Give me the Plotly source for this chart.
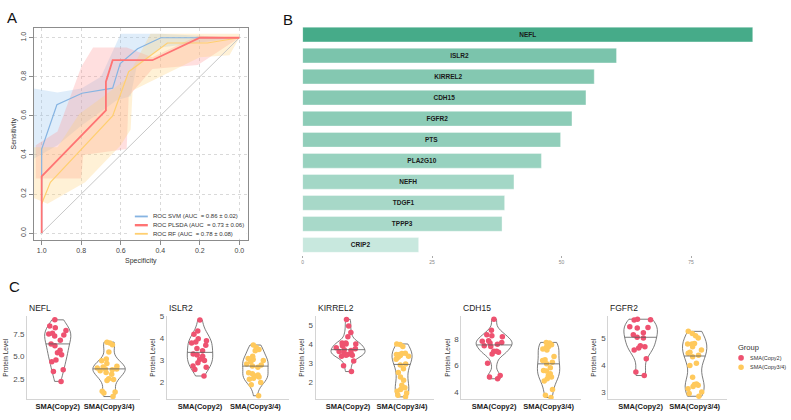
import numpy as np
import plotly.graph_objects as go

W, H = 791, 420
FONT = "Liberation Sans, Arial, sans-serif"

# ---------------- Panel A : ROC curves ----------------
roc_names = ["ROC SVM (AUC  = 0.86 ± 0.02)",
             "ROC PLSDA (AUC  = 0.73 ± 0.06)",
             "ROC RF (AUC  = 0.78 ± 0.08)"]
svm_spec = [1.0, 1.0, 0.923, 0.796, 0.641, 0.603, 0.515, 0.397, 0.0]
svm_sens = [0.0, 0.43, 0.657, 0.716, 0.742, 0.868, 0.944, 1.0, 1.0]
pls_spec = [1.0, 1.0, 0.675, 0.675, 0.641, 0.44, 0.2, 0.0]
pls_sens = [0.0, 0.29, 0.628, 0.775, 0.885, 0.885, 1.0, 1.0]
rf_spec = [1.0, 0.956, 0.641, 0.56, 0.364, 0.162, 0.0]
rf_sens = [0.15, 0.26, 0.60, 0.826, 0.973, 0.973, 1.0]
# confidence bands (upper / lower)
svm_up_spec = [1.04, 0.92, 0.80, 0.70, 0.60, 0.40, 0.0]
svm_up_sens = [0.74, 0.72, 0.74, 0.80, 1.02, 1.02, 1.0]
svm_lo_spec = [1.04, 0.92, 0.80, 0.62, 0.55, 0.52, 0.40, 0.0]
svm_lo_sens = [0.38, 0.45, 0.55, 0.68, 0.70, 0.85, 0.95, 1.0]
pls_up_spec = [1.03, 0.92, 0.80, 0.74, 0.57, 0.44, 0.21, 0.0]
pls_up_sens = [0.45, 0.52, 0.85, 0.95, 0.95, 0.90, 1.01, 1.0]
pls_lo_spec = [1.03, 0.80, 0.79, 0.57, 0.56, 0.44, 0.21, 0.0]
pls_lo_sens = [0.28, 0.28, 0.40, 0.43, 0.70, 0.84, 0.86, 1.0]
rf_up_spec = [1.04, 0.92, 0.81, 0.70, 0.57, 0.45, 0.0]
rf_up_sens = [0.44, 0.44, 0.61, 0.69, 0.79, 1.02, 1.02]
rf_lo_spec = [1.04, 0.97, 0.78, 0.60, 0.55, 0.54, 0.40, 0.20, 0.05, 0.0]
rf_lo_sens = [0.18, 0.15, 0.26, 0.45, 0.53, 0.73, 0.80, 0.90, 0.91, 1.0]
chance = [0.0, 1.0]
roc_ticks = [0.0, 0.2, 0.4, 0.6, 0.8, 1.0]

# ---------------- Panel B : importance ----------------
genes_b = ["NEFL", "ISLR2", "KIRREL2", "CDH15", "FGFR2", "PTS",
           "PLA2G10", "NEFH", "TDGF1", "TPPP3", "CRIP2"]
importance_b = [86.9, 60.6, 56.3, 54.7, 52.0, 49.8, 46.1, 40.8, 39.0, 38.5, 22.4]
b_ticks = [0, 25, 50, 75]

# ---------------- Panel C : violins ----------------
groups = ["SMA(Copy2)", "SMA(Copy3/4)"]
c_genes = ["NEFL", "ISLR2", "KIRREL2", "CDH15", "FGFR2"]
nefl_c2 = [9.1, 8.4, 8.2, 7.9, 7.6, 7.5, 7.4, 7.3, 6.8, 6.4, 6.2, 5.7, 5.4, 5.2, 4.6, 4.4, 3.5, 3.3, 2.2]
nefl_c34 = [6.6, 6.5, 6.3, 5.5, 4.7, 4.5, 4.2, 3.9, 3.8, 3.7, 3.6, 3.6, 3.5, 3.4, 3.2, 3.0, 2.5, 2.4, 2.3, 1.1, 1.0, 0.9, 0.5]
islr2_c2 = [4.85, 4.35, 4.2, 4.0, 3.9, 3.85, 3.8, 3.7, 3.55, 3.45, 3.3, 3.25, 3.2, 3.05, 3.0, 2.9, 2.75, 2.7, 2.6, 2.3]
islr2_c34 = [3.71, 3.6, 3.5, 3.45, 3.2, 3.1, 3.05, 3.0, 2.95, 2.85, 2.8, 2.75, 2.7, 2.45, 2.4, 2.35, 2.3, 2.25, 2.2, 2.15, 2.0, 1.9, 1.4]
kirrel2_c2 = [5.29, 4.95, 4.6, 4.38, 4.05, 4.05, 4.0, 4.0, 3.9, 3.8, 3.75, 3.7, 3.65, 3.6, 3.55, 3.5, 3.45, 3.4, 3.4, 3.35, 3.1, 2.85, 2.55]
kirrel2_c34 = [4.0, 3.97, 3.86, 3.51, 3.5, 3.45, 3.44, 3.39, 3.35, 3.3, 3.2, 2.95, 2.9, 2.7, 2.5, 2.26, 2.09, 1.83, 1.7, 1.6, 1.52, 1.42, 1.3, 1.22]
cdh15_c2 = [9.5, 8.68, 8.33, 8.25, 8.18, 7.88, 7.83, 7.75, 7.7, 7.62, 7.5, 7.45, 7.08, 7.08, 7.0, 6.88, 6.18, 5.25, 5.13, 5.0]
cdh15_c34 = [7.75, 7.7, 7.58, 7.42, 7.38, 7.25, 7.18, 6.68, 6.43, 6.38, 6.25, 6.13, 5.83, 5.63, 5.58, 5.38, 5.25, 5.13, 5.0, 4.83, 4.18, 3.75, 3.58]
fgfr2_c2 = [5.70, 5.68, 5.67, 5.42, 5.39, 5.37, 5.2, 5.12, 5.03, 5.0, 4.72, 4.68, 4.63, 4.56, 4.23, 3.74, 3.61]
fgfr2_c34 = [5.25, 5.17, 5.09, 5.0, 4.8, 4.78, 4.78, 4.68, 4.56, 4.47, 4.44, 4.36, 4.31, 4.07, 3.98, 3.55, 3.3, 3.28, 3.25, 3.2, 3.12, 3.0, 2.94, 2.84]
c_tickvals = [[2.5, 5.0, 7.5], [2, 3, 4, 5], [2, 3, 4, 5], [4, 6, 8], [3, 4, 5]]
c_ticktext = [["2.5", "5.0", "7.5"], ["2", "3", "4", "5"], ["2", "3", "4", "5"], ["4", "6", "8"], ["3", "4", "5"]]
c_data = [(nefl_c2, nefl_c34), (islr2_c2, islr2_c34), (kirrel2_c2, kirrel2_c34),
          (cdh15_c2, cdh15_c34), (fgfr2_c2, fgfr2_c34)]

# ---------------- styles ----------------
roc_colors = ["#86B4E2", "#FF7474", "#FFCF70"]
roc_widths = [1.2, 1.8, 1.2]
band_colors = ["rgba(150,195,240,0.30)", "rgba(255,150,150,0.30)", "rgba(255,210,120,0.30)"]
grp_colors = ["#EE5270", "#FFC95C"]
c_xdom = [(26, 139), (166, 288), (315, 434), (461, 581), (608, 727)]
c_yrange = [(0.17, 9.53), (1.23, 5.03), (1.08, 5.47), (3.43, 9.75), (2.72, 5.82)]
c_widths = [(0.51, 0.63), (0.46, 0.46), (0.63, 0.37), (0.66, 0.41), (0.62, 0.45)]
C_TOP, C_BOT = 315, 399.3


def xd(a, b):
    return [a / W, b / W]


def yd(top, bot):
    return [1 - bot / H, 1 - top / H]


def bw_nrd0(v):
    v = np.asarray(v, float)
    sd = v.std(ddof=1)
    q75, q25 = np.percentile(v, [75, 25])
    lo = min(sd, (q75 - q25) / 1.34)
    if lo <= 0:
        lo = sd
    return 0.9 * lo * len(v) ** -0.2


def kde(v, grid, bw):
    v = np.asarray(v, float)
    z = (np.asarray(grid)[:, None] - v[None, :]) / bw
    return np.exp(-0.5 * z ** 2).sum(1) / (len(v) * bw * np.sqrt(2 * np.pi))


fig = go.Figure()

# ---- Panel A traces
bands = [(svm_up_spec, svm_up_sens, svm_lo_spec, svm_lo_sens),
         (pls_up_spec, pls_up_sens, pls_lo_spec, pls_lo_sens),
         (rf_up_spec, rf_up_sens, rf_lo_spec, rf_lo_sens)]
for (us, ue, ls, le), bc in zip(bands, band_colors):
    fig.add_trace(go.Scatter(x=list(us) + list(ls)[::-1], y=list(ue) + list(le)[::-1],
                             fill="toself", fillcolor=bc, line=dict(width=0),
                             mode="lines", showlegend=False, hoverinfo="skip",
                             xaxis="x", yaxis="y"))
fig.add_trace(go.Scatter(x=chance[::-1], y=chance, mode="lines",
                         line=dict(color="#C8C8C8", width=1), showlegend=False,
                         hoverinfo="skip", xaxis="x", yaxis="y"))
curves = [(svm_spec, svm_sens), (rf_spec, rf_sens), (pls_spec, pls_sens)]
order = [0, 2, 1]
for (sx, sy), i in zip(curves, order):
    fig.add_trace(go.Scatter(x=sx, y=sy, mode="lines", name=roc_names[i],
                             line=dict(color=roc_colors[i], width=roc_widths[i]),
                             showlegend=False, xaxis="x", yaxis="y"))

# ---- Panel B trace
fig.add_trace(go.Bar(x=importance_b, y=genes_b, orientation="h", width=0.7,
                     marker=dict(color=importance_b,
                                 colorscale=[[0, "#C8E8DE"], [1, "#46AB89"]],
                                 cmin=min(importance_b), cmax=max(importance_b),
                                 line=dict(color="rgba(255,255,255,0.6)", width=0.6)),
                     texttemplate="<b>%{y}</b>", textposition="inside",
                     insidetextanchor="middle", textangle=0,
                     textfont=dict(size=6.5, color="#1a1a1a", family=FONT),
                     showlegend=False, xaxis="x2", yaxis="y2"))

# ---- Panel C traces
for k, ((d1, d2), (w1, w2)) in enumerate(zip(c_data, c_widths)):
    ax = k + 3
    for pos, (vals, wd, col) in enumerate(zip((d1, d2), (w1, w2), grp_colors)):
        bw = bw_nrd0(vals)
        fig.add_trace(go.Violin(x0=pos, y=vals, width=wd, bandwidth=bw,
                                spanmode="hard", scalemode="width", side="both",
                                line=dict(color="#5A5A5A", width=0.8),
                                fillcolor="rgba(0,0,0,0)", points="all", pointpos=0,
                                jitter=0.75,
                                marker=dict(color=col, size=5.5, line=dict(width=0)),
                                showlegend=False, xaxis=f"x{ax}", yaxis=f"y{ax}"))
        grid = np.linspace(min(vals), max(vals), 512)
        dens = kde(vals, grid, bw)
        med = float(np.median(vals))
        hw = wd / 2 * float(kde(vals, [med], bw)[0]) / dens.max()
        fig.add_trace(go.Scatter(x=[pos - hw, pos + hw], y=[med, med], mode="lines",
                                 line=dict(color="#5A5A5A", width=0.8),
                                 showlegend=False, hoverinfo="skip",
                                 xaxis=f"x{ax}", yaxis=f"y{ax}"))

layout = dict(
    width=W, height=H, margin=dict(l=0, r=0, t=0, b=0),
    paper_bgcolor="white", plot_bgcolor="white",
    font=dict(family=FONT, color="#333"),
    violinmode="overlay", showlegend=False,
    xaxis=dict(domain=xd(33, 247), range=[1.039, -0.042], tickvals=roc_ticks,
               tickformat=".1f", showgrid=True, gridcolor="#D9D9D9", griddash="dot",
               zeroline=False, showline=True, mirror=True, linecolor="#8C8C8C",
               linewidth=1, ticks="outside", ticklen=4, tickcolor="#8C8C8C",
               tickfont=dict(size=7, color="#444"),
               title=dict(text="Specificity", font=dict(size=7, color="#333"), standoff=4)),
    yaxis=dict(domain=yd(24, 238), range=[-0.034, 1.051], tickvals=roc_ticks,
               tickformat=".1f", tickangle=-90, showgrid=True, gridcolor="#D9D9D9",
               griddash="dot", zeroline=False, showline=True, mirror=True,
               linecolor="#8C8C8C", linewidth=1, ticks="outside", ticklen=4,
               tickcolor="#8C8C8C", tickfont=dict(size=7, color="#444"),
               title=dict(text="Sensitivity", font=dict(size=7, color="#333"), standoff=2)),
    xaxis2=dict(domain=xd(302, 775), range=[0, 91.2], tickvals=b_ticks,
                showgrid=False, zeroline=False, showline=False, ticks="outside",
                ticklen=2, tickcolor="#AAAAAA", tickfont=dict(size=5, color="#888"),
                anchor="y2"),
    yaxis2=dict(domain=yd(20.2, 253.9), categoryorder="array", categoryarray=genes_b,
                range=[10.5, -0.5], showticklabels=False, showgrid=False,
                zeroline=False, showline=False, ticks="", anchor="x2"),
)
annotations = []
shapes = []
for k in range(5):
    ax = k + 3
    layout[f"xaxis{ax}"] = dict(domain=xd(*c_xdom[k]), range=[-0.6, 1.6], tickvals=[0, 1],
                                ticktext=groups, tickangle=0, showgrid=False, zeroline=False,
                                showline=True, linecolor="#D4D4D4", linewidth=1, ticks="",
                                tickfont=dict(size=7.5, color="#222", weight="bold"),
                                anchor=f"y{ax}")
    layout[f"yaxis{ax}"] = dict(domain=yd(C_TOP, C_BOT), range=list(c_yrange[k]),
                                tickvals=c_tickvals[k], ticktext=c_ticktext[k],
                                showgrid=False, zeroline=False, showline=True,
                                linecolor="#D4D4D4", linewidth=1, ticks="",
                                tickfont=dict(size=8, color="#4D4D4D"),
                                title=dict(text="Protein Level", font=dict(size=6.5, color="#333"),
                                           standoff=3),
                                anchor=f"x{ax}")
    annotations.append(dict(text=c_genes[k], x=c_xdom[k][0] / W, y=1 - 307 / H,
                            xref="paper", yref="paper", xanchor="left", yanchor="middle",
                            showarrow=False, font=dict(size=8.5, color="#222")))

# panel letters
for lab, px, py in [("A", 11, 14), ("B", 287, 16), ("C", 14, 285.5)]:
    annotations.append(dict(text=lab, x=px / W, y=1 - py / H, xref="paper", yref="paper",
                            xanchor="center", yanchor="middle", showarrow=False,
                            font=dict(size=15, color="#111")))

# ROC legend (inside panel A)
shapes.append(dict(type="rect", xref="paper", yref="paper", x0=129 / W, x1=246 / W,
                   y0=1 - 237 / H, y1=1 - 209 / H, fillcolor="white", line=dict(width=0)))
for i, ly in enumerate([214.5, 223.3, 232.0]):
    shapes.append(dict(type="line", xref="paper", yref="paper", x0=134 / W, x1=147 / W,
                       y0=1 - ly / H, y1=1 - ly / H,
                       line=dict(color=roc_colors[i], width=roc_widths[i] + 0.6)))
    annotations.append(dict(text=roc_names[i], x=150.5 / W, y=1 - ly / H, xref="paper",
                            yref="paper", xanchor="left", yanchor="middle", showarrow=False,
                            font=dict(size=6, color="#333")))

# Group legend
annotations.append(dict(text="Group", x=736 / W, y=1 - 347 / H, xref="paper", yref="paper",
                        xanchor="left", yanchor="middle", showarrow=False,
                        font=dict(size=7.5, color="#333")))
for i, ly in enumerate([357.3, 366.7]):
    r = 2.8
    shapes.append(dict(type="circle", xref="paper", yref="paper",
                       x0=(741 - r) / W, x1=(741 + r) / W,
                       y0=1 - (ly + r) / H, y1=1 - (ly - r) / H,
                       fillcolor=grp_colors[i], line=dict(width=0)))
    annotations.append(dict(text=groups[i], x=748 / W, y=1 - ly / H, xref="paper",
                            yref="paper", xanchor="left", yanchor="middle", showarrow=False,
                            font=dict(size=5.5, color="#333")))

layout["annotations"] = annotations
layout["shapes"] = shapes
fig.update_layout(**layout)

page_fix = ("document.documentElement.style.margin='0';document.body.style.margin='0';"
            "document.body.style.padding='0';document.documentElement.style.overflow='hidden';"
            "document.body.style.overflow='hidden';")
fig.write_html("out.html", post_script=page_fix)
